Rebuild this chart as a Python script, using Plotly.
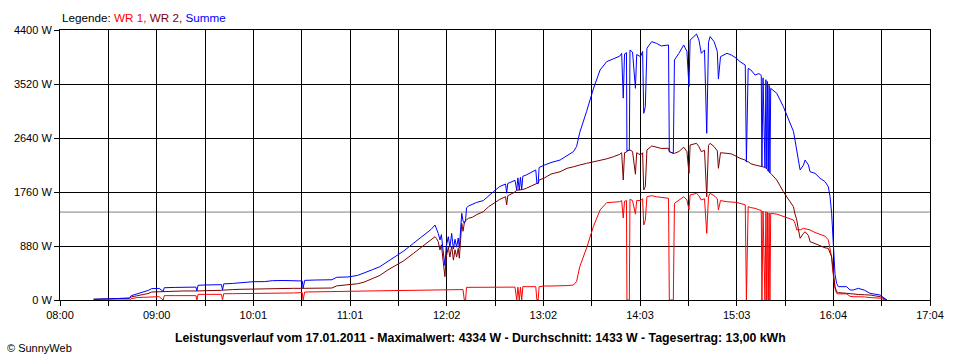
import plotly.graph_objects as go

# time in minutes after 08:00
T_MIN = [21, 27, 28, 33, 38, 43.5, 44.5, 46, 48, 52, 55, 57.3, 62, 64.5, 65.2, 72, 77, 85, 85.6, 86.3,
         91, 101, 101.6, 102.4, 108, 112.6, 120.7, 128, 133, 140, 146, 151.5, 152, 153, 160, 170, 173, 180, 186, 190,
         195, 200, 205, 210, 215, 221, 225, 229.3, 232, 234.5, 235.5, 236.5, 237.6, 238.5, 239.5, 240.7, 241.5, 242.8, 243.8, 244.9,
         246, 247, 248, 249, 249.7, 250.5, 251.2, 252, 252.8, 253.6, 254.2, 255.3, 258, 260.5, 264.7, 268, 271, 275, 278.6, 279.3,
         280, 284.5, 285.6, 286.3, 287.2, 287.9, 288.7, 289.4, 291.5, 297.5, 298.2, 299, 299.6, 303, 307, 312.7, 317, 321, 323, 325,
         329.3, 333.5, 337.7, 341.8, 346, 350, 351.2, 352.2, 353, 354.2, 354.5, 356, 356.4, 358, 359.8, 360.6, 363, 364.3, 365, 366,
         367, 370, 373, 376, 380.5, 381, 383.5, 384.2, 387, 390, 392, 393.3, 394, 396, 398, 399.5, 401, 403, 404.4, 405.5,
         406.5, 409, 411, 411.7, 413, 417, 420, 423, 425.2, 428.5, 429.2, 430.3, 432, 434.6, 437, 438.5, 438.9, 439.6, 440.8, 441.4,
         441.9, 442.4, 442.9, 443.4, 443.9, 444.4, 448.2, 452.3, 456.5, 458.6, 459.6, 460.7, 461.7, 462.8, 464.9, 465.9, 468, 469, 472.1, 475.3,
         478.4, 480.4, 481.5, 482.5, 483.1, 483.6, 484.6, 485.6, 486.7, 491.9, 494, 496, 499.2, 503, 506.5, 512.8, 515.9, 517]

WR1 = [0, 0, 0, 0, 0, 0, 20, 27, 40, 44, 50, 54, 54, 0, 71, 71, 71, 71, 0, 92,
       92, 92, 0, 103, 103, 103, 103, 105, 105, 110, 115, 120, 0, 130, 135, 140, 140, 140, 145, 145,
       148, 150, 152, 155, 158, 163, 163, 163, 165, 170, 170, 165, 165, 165, 165, 165, 165, 165, 165, 165,
       165, 165, 165, 165, 165, 165, 170, 170, 0, 0, 206, 206, 206, 206, 206, 206, 206, 210, 210, 210,
       210, 210, 0, 210, 0, 210, 0, 217, 217, 217, 0, 0, 217, 228, 228, 228, 235, 244, 299, 543,
       850, 1195, 1467, 1586, 1595, 1602, 1620, 1336, 1610, 1620, 0, 0, 1641, 1620, 1400, 1620, 1620, 1650, 1222, 1300,
       1683, 1700, 1683, 1670, 1657, 0, 0, 1575, 1630, 1683, 1630, 1470, 1711, 1725, 1738, 1700, 1630, 1650, 1086, 1690,
       1738, 1700, 1650, 1467, 1620, 1602, 1602, 1590, 1575, 1550, 0, 1521, 1505, 1494, 1470, 1460, 0, 1450, 0, 1440,
       0, 1430, 0, 1420, 0, 1412, 1400, 1360, 1331, 1304, 1250, 1141, 1150, 1141, 1168, 1160, 1150, 1141, 1100, 1070,
       1040, 980, 815, 700, 500, 380, 190, 109, 100, 100, 60, 54, 54, 50, 40, 30, 0, 0]

WR2 = [12, 14, 18, 22, 28, 30, 50, 55, 68, 90, 105, 130, 135, 140, 135, 140, 147, 147, 147, 147,
       155, 158, 160, 160, 170, 174, 180, 182, 190, 190, 190, 190, 190, 190, 190, 195, 230, 245, 265, 290,
       340, 400, 490, 560, 640, 760, 840, 924, 980, 1032, 1000, 950, 815, 900, 650, 380, 700, 860, 700, 880,
       650, 820, 700, 842, 680, 1032, 1250, 1120, 1250, 1300, 1304, 1330, 1350, 1390, 1440, 1520, 1575, 1640, 1683, 1548,
       1700, 1760, 1790, 1790, 1790, 1800, 1800, 1800, 1820, 1900, 1900, 1900, 1955, 1990, 2053, 2090, 2146, 2170, 2190, 2200,
       2227, 2250, 2281, 2300, 2335, 2374, 2400, 1955, 2400, 2410, 2430, 2444, 2444, 2420, 2050, 2400, 2363, 2400, 1793, 1850,
       2444, 2510, 2490, 2470, 2472, 2417, 2390, 2390, 2420, 2490, 2420, 2064, 2526, 2540, 2553, 2500, 2417, 2440, 1683, 2520,
       2553, 2500, 2430, 2146, 2400, 2390, 2380, 2340, 2309, 2280, 2254, 2254, 2220, 2200, 2190, 2180, 2173, 2170, 2160, 2150,
       2140, 2130, 2100, 2090, 2070, 2064, 1955, 1765, 1602, 1521, 1400, 1304, 1150, 1005, 1086, 1113, 1050, 950, 920, 880,
       850, 842, 760, 700, 560, 435, 217, 136, 120, 109, 100, 95, 90, 85, 81, 54, 20, 0]

SUMME = [12, 14, 18, 22, 28, 30, 70, 82, 108, 134, 155, 185, 189, 140, 200, 205, 210, 210, 147, 240,
         245, 250, 160, 263, 270, 282, 298, 300, 315, 318, 320, 310, 190, 320, 326, 330, 370, 375, 400, 435,
         490, 543, 630, 706, 800, 924, 1005, 1086, 1150, 1222, 1160, 1086, 980, 1065, 815, 560, 869, 1032, 860, 1086,
         830, 990, 860, 1010, 850, 1200, 1412, 1290, 1250, 1300, 1500, 1530, 1560, 1590, 1620, 1700, 1765, 1850, 1890, 1740,
         1900, 1950, 1790, 1990, 1790, 2000, 1800, 2017, 2037, 2119, 1900, 1900, 2160, 2200, 2240, 2281, 2350, 2417, 2500, 2730,
         3075, 3440, 3748, 3884, 3930, 3975, 4020, 3290, 4010, 4030, 2430, 2444, 4074, 4040, 3450, 4000, 3965, 4050, 3042, 3150,
         4102, 4210, 4183, 4140, 4156, 2417, 2390, 3911, 4020, 4156, 4050, 3476, 4237, 4280, 4334, 4237, 4020, 4075, 2716, 4200,
         4292, 4210, 4050, 3600, 3965, 4020, 3990, 3938, 3884, 3829, 2254, 3775, 3748, 3666, 3690, 3660, 2173, 3620, 2160, 3590,
         2140, 3560, 2100, 3500, 2070, 3450, 3368, 3150, 2879, 2750, 2607, 2400, 2281, 2119, 2200, 2281, 2200, 2091, 2064, 1983,
         1928, 1847, 1684, 1412, 1141, 900, 420, 272, 217, 217, 163, 163, 190, 160, 109, 81, 27, 0]

AVG = 1433
X_SPAN = 544  # 08:00 .. 17:04
X_LABELS = ["08:00", "09:00", "10:01", "11:01", "12:02", "13:02", "14:03", "15:03", "16:04", "17:04"]
Y_TICKS = [0, 880, 1760, 2640, 3520, 4400]

FONT = "Liberation Sans"

xtickvals = [i * X_SPAN / 18 for i in range(19)]
xticktext = [X_LABELS[i // 2] if i % 2 == 0 else "" for i in range(19)]

fig = go.Figure()
fig.add_trace(go.Scatter(x=T_MIN, y=WR1, mode="lines", name="WR 1",
                         line=dict(color="#FF0000", width=1)))
fig.add_trace(go.Scatter(x=T_MIN, y=WR2, mode="lines", name="WR 2",
                         line=dict(color="#800000", width=1)))
fig.add_trace(go.Scatter(x=T_MIN, y=SUMME, mode="lines", name="Summe",
                         line=dict(color="#0000FF", width=1)))

fig.add_shape(type="line", xref="paper", x0=0, x1=1, yref="y", y0=AVG, y1=AVG,
              line=dict(color="#808080", width=1), layer="between")

axis_common = dict(showgrid=True, gridcolor="black", gridwidth=1, ticks="outside", ticklen=5,
                   tickcolor="black", tickwidth=1, showline=True, linecolor="black", linewidth=1,
                   mirror=True, zeroline=False, tickfont=dict(family=FONT, size=11, color="black"))

fig.update_layout(
    width=960, height=360,
    margin=dict(l=60, r=30, t=30, b=60),
    paper_bgcolor="white", plot_bgcolor="white",
    showlegend=False,
    xaxis=dict(range=[0, X_SPAN], tickmode="array", tickvals=xtickvals, ticktext=xticktext, **axis_common),
    yaxis=dict(range=[0, 4400], tickmode="array", tickvals=Y_TICKS,
               ticktext=[f"{v} W" for v in Y_TICKS], **axis_common),
    annotations=[
        dict(xref="paper", yref="paper", x=0, y=1, xanchor="left", yanchor="middle", xshift=0, yshift=13,
             showarrow=False, font=dict(family=FONT, size=11.7, color="black"),
             text="Legende: <span style='color:#FF0000'>WR 1,</span> <span style='color:#800000'>WR 2,</span> "
                  "<span style='color:#0000FF'>Summe</span>"),
        dict(xref="paper", yref="paper", x=(480 - 60) / 870, y=0, xanchor="center", yanchor="middle", yshift=-38,
             showarrow=False, font=dict(family=FONT, size=12.3, color="black"),
             text="<b>Leistungsverlauf vom 17.01.2011 - Maximalwert: 4334 W - Durchschnitt: 1433 W - "
                  "Tagesertrag: 13,00 kWh</b>"),
        dict(xref="paper", yref="paper", x=(5 - 60) / 870, y=0, xanchor="left", yanchor="middle", yshift=-48,
             showarrow=False, font=dict(family=FONT, size=11, color="black"),
             text="© SunnyWeb"),
    ],
)

fig.write_html("out.html", config={"displayModeBar": False},
               post_script="document.body.style.margin='0';")
